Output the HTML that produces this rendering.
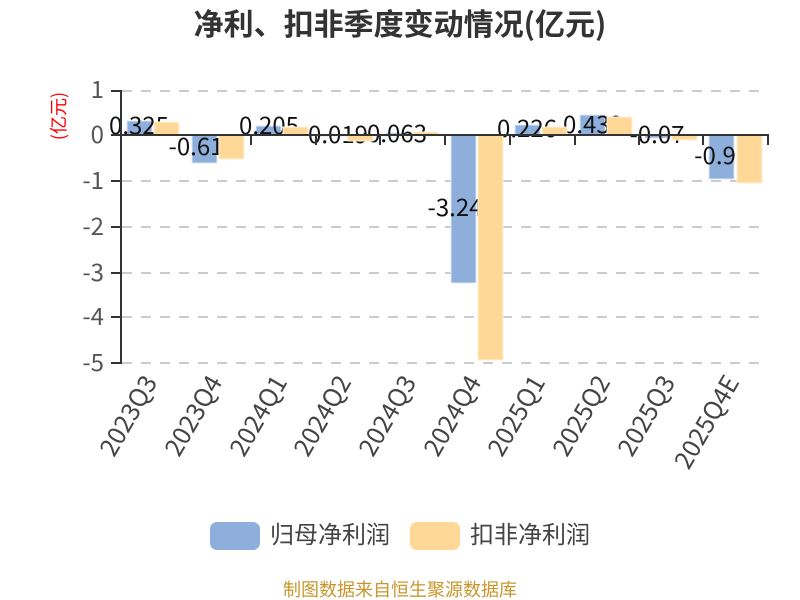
<!DOCTYPE html>
<html><head><meta charset="utf-8"><style>
html,body{margin:0;padding:0;background:#fff}
svg{display:block}
text{font-family:"Noto Sans CJK SC","Liberation Sans",sans-serif}
</style></head><body>
<svg width="800" height="600" viewBox="0 0 800 600" xmlns="http://www.w3.org/2000/svg">
<rect width="800" height="600" fill="#fff"/>
<text x="400" y="35" text-anchor="middle" font-size="30" font-weight="700" fill="#333">净利、扣非季度变动情况(亿元)</text>
<text transform="translate(65,116) rotate(-90)" text-anchor="middle" font-size="18" fill="#f00">(亿元)</text>
<g stroke="#ccc" stroke-width="2" stroke-dasharray="10 9">
<line x1="122" x2="768" y1="91" y2="91"/>
<line x1="122" x2="768" y1="181" y2="181"/>
<line x1="122" x2="768" y1="227" y2="227"/>
<line x1="122" x2="768" y1="273" y2="273"/>
<line x1="122" x2="768" y1="317" y2="317"/>
<line x1="122" x2="768" y1="363" y2="363"/>
</g>
<g fill="#8eaedb" stroke="#dfe8f5" stroke-width="1">
<rect x="127" y="121" width="25" height="14"/>
<rect x="192" y="135" width="25" height="28"/>
<rect x="256" y="126" width="25" height="9"/>
<rect x="321" y="135" width="25" height="1"/>
<rect x="386" y="133" width="25" height="2"/>
<rect x="451" y="135" width="25" height="148"/>
<rect x="515" y="125" width="25" height="10"/>
<rect x="580" y="115" width="25" height="20"/>
<rect x="645" y="135" width="25" height="3"/>
<rect x="709" y="135" width="25" height="44"/>
</g>
<g font-size="24" fill="#111" text-anchor="middle">
<text x="139" y="134">0.325</text>
<text x="196" y="155">-0.61</text>
<text x="269" y="134">0.205</text>
<text x="338" y="143">0.019</text>
<text x="397" y="142">0.063</text>
<text x="455" y="216">-3.24</text>
<text x="527" y="137">0.226</text>
<text x="593" y="133">0.439</text>
<text x="657" y="143">-0.07</text>
<text x="715" y="164">-0.9</text>
</g>
<g fill="#ffd898" stroke="#fff0d8" stroke-width="1">
<rect x="154" y="122" width="25" height="13"/>
<rect x="219" y="135" width="25" height="24"/>
<rect x="283" y="127" width="25" height="8"/>
<rect x="348" y="135" width="25" height="6"/>
<rect x="413" y="132" width="25" height="3"/>
<rect x="478" y="135" width="25" height="225"/>
<rect x="542" y="127" width="25" height="8"/>
<rect x="607" y="117" width="25" height="18"/>
<rect x="672" y="135" width="25" height="5"/>
<rect x="737" y="135" width="25" height="48"/>
</g>
<g stroke="#333" stroke-width="2" fill="none">
<line x1="121" y1="90" x2="121" y2="364"/>
<line x1="120" y1="135" x2="769" y2="135"/>
<path d="M111 91H121M111 135H121M111 181H121M111 227H121M111 273H121M111 317H121M111 363H121"/>
<path d="M251 135V145M316 135V145M380 135V145M445 135V145M510 135V145M575 135V145M639 135V145M703 135V145M768 135V145"/>
</g>
<g font-size="24" fill="#555" text-anchor="end">
<text x="104" y="98">1</text>
<text x="104" y="143">0</text>
<text x="104" y="189">-1</text>
<text x="104" y="235">-2</text>
<text x="104" y="281">-3</text>
<text x="104" y="325">-4</text>
<text x="104" y="371">-5</text>
</g>
<g font-size="25" fill="#444" text-anchor="end">
<text transform="translate(158,382) rotate(-60)">2023Q3</text>
<text transform="translate(223,382) rotate(-60)">2023Q4</text>
<text transform="translate(288,382) rotate(-60)">2024Q1</text>
<text transform="translate(352,382) rotate(-60)">2024Q2</text>
<text transform="translate(417,382) rotate(-60)">2024Q3</text>
<text transform="translate(482,382) rotate(-60)">2024Q4</text>
<text transform="translate(546,382) rotate(-60)">2025Q1</text>
<text transform="translate(611,382) rotate(-60)">2025Q2</text>
<text transform="translate(676,382) rotate(-60)">2025Q3</text>
<text transform="translate(740,382) rotate(-60)">2025Q4E</text>
</g>
<rect x="210" y="522" width="50" height="28" rx="7" fill="#8eaedb"/>
<text x="270" y="543" font-size="24" fill="#444">归母净利润</text>
<rect x="410" y="522" width="50" height="28" rx="7" fill="#ffd898"/>
<text x="470" y="543" font-size="24" fill="#444">扣非净利润</text>
<text x="400" y="596" text-anchor="middle" font-size="18" fill="#c8962d">制图数据来自恒生聚源数据库</text>
</svg>
</body></html>
